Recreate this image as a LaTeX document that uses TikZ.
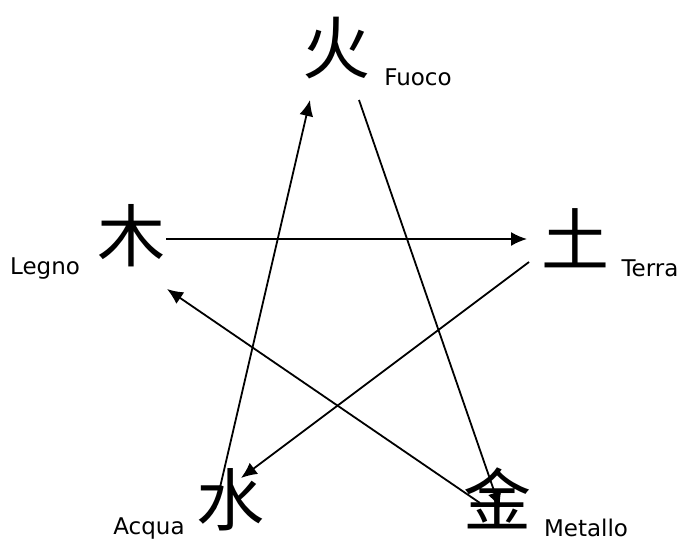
\documentclass[tikz,border=0pt]{standalone}
\usepackage{fontspec}
\setmainfont{DejaVu Sans}
\newfontfamily\cjk{Noto Sans CJK SC}
\usetikzlibrary{arrows.meta}
\begin{document}
\begin{tikzpicture}[x=1pt,y=-1pt,
  hanzi/.style={font=\cjk\fontsize{68}{80}\selectfont, inner sep=0pt},
  lbl/.style={font=\fontsize{23}{28}\selectfont, inner sep=0pt},
  link/.style={line width=1.8pt, -{Latex[length=16pt,width=14pt]}}]
\useasboundingbox (0,0) rectangle (685,542);
% characters
\node[hanzi] (fire)  at (336,48)  {火};
\node[hanzi] (wood)  at (131,236) {木};
\node[hanzi] (earth) at (575,238) {土};
\node[hanzi] (water) at (230,500) {水};
\node[hanzi] (metal) at (497,498) {金};
% labels
\node[lbl] (lfire)  at (418,77)  {Fuoco};
\node[lbl] (lwood)  at (45,268)  {Legno};
\node[lbl] (learth) at (650,268) {Terra};
\node[lbl] (lwater) at (149,528) {Acqua};
\node[lbl] (lmetal) at (586,528) {Metallo};
% connector end points
\coordinate (w1) at (166,239);
\coordinate (e1) at (527,239);
\coordinate (e2) at (529,262);
\coordinate (a2) at (241,478);
\coordinate (a3) at (215,509);
\coordinate (f3) at (310,100);
\coordinate (f4) at (359,100);
\coordinate (m4) at (500,508);
\coordinate (m5) at (480,503);
\coordinate (w5) at (167,289);
% connectors
\draw[link] (w1) -- (e1);
\draw[link] (e2) -- (a2);
\draw[link] (a3) -- (f3);
\draw[link] (f4) -- (m4);
\draw[link] (m5) -- (w5);
\end{tikzpicture}
\end{document}
